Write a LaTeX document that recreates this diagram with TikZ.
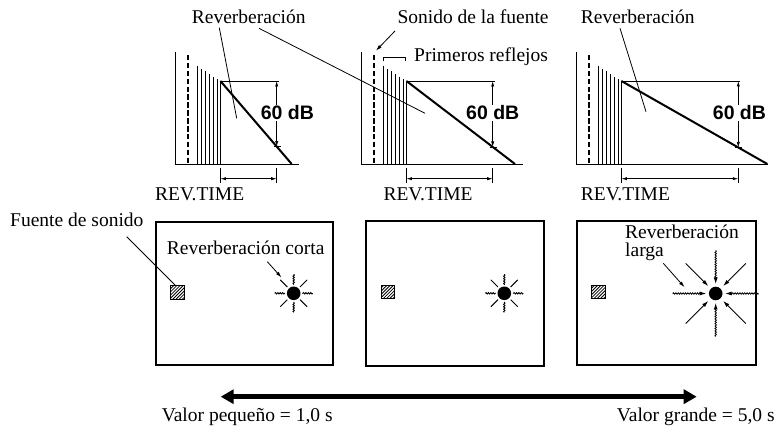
\documentclass[tikz,border=0pt]{standalone}
\usepackage{fontspec}
\setmainfont{Liberation Serif}
\newfontfamily\dbfont{Liberation Sans}
\usetikzlibrary{arrows.meta,decorations.pathmorphing}
\tikzset{
  lbl/.style={font=\fontsize{19.5}{22}\selectfont, inner sep=0pt, anchor=base west},
  dblbl/.style={font=\dbfont\bfseries\fontsize{19.5}{22}\selectfont, fill=white, inner sep=1pt, anchor=base west},
  axisln/.style={line width=0.9pt},
  dashln/.style={line width=1.7pt, dash pattern=on 5.5pt off 2.4pt},
  barln/.style={line width=1.5pt},
  decayln/.style={line width=2pt},
  thinln/.style={line width=0.8pt},
  dimarr/.style={line width=0.7pt, {Latex[length=5.5pt,width=3.2pt]}-{Latex[length=5.5pt,width=3.2pt]}},
  leadarr/.style={line width=0.8pt, -{Latex[length=6pt,width=3.6pt]}},
  boxln/.style={line width=2pt},
  wavy/.style={line width=0.8pt, decorate, decoration={snake, amplitude=0.7pt, segment length=2.4pt, post length=5pt}},
  rayarr/.style={-{Latex[length=6.5pt,width=4pt]}},
}
% #1 axis x, #2 decay end x, #3 60dB arrow x, #4 axis end x, #5 name, #6 60dB label x, #7 REV.TIME x
\newcommand\rvgraph[7]{%
  \draw[axisln] (#1,52) -- (#1,164) -- (#4,164);
  \draw[dashln] ({#1+12.5},55) -- ({#1+12.5},164);
  \foreach \dx/\ty in {22/65.7,26/69,30/71.3,34/74,38/76.7,42/79,44.7/81}
    \draw[barln] ({#1+\dx},\ty) -- ({#1+\dx},164);
  \coordinate (#5s) at ({#1+44.7},81);
  \coordinate (#5e) at (#2,164);
  \coordinate (#5t) at (#3,81);
  \coordinate (#5b) at (#3,{81+83*(#3-#1-44.7)/(#2-#1-44.7)});
  \draw[decayln] (#5s) -- (#5e);
  \draw[thinln] (#5s) -- ({#3+2},81);
  \draw[dimarr] (#5t) -- (#5b);
  \draw[thinln] ([xshift=-3pt]#5b) -- ([xshift=4pt]#5b);
  \node[dblbl] (#5db) at ({#6-1},120) {60 dB};
  \coordinate (#5dl) at ({#1+44.7},178.7);
  \coordinate (#5dr) at (#3,178.7);
  \draw[thinln] ({#1+44.7},168) -- ({#1+44.7},183);
  \draw[thinln] (#3,168) -- (#3,183);
  \draw[dimarr] (#5dl) -- (#5dr);
  \node[lbl] (#5rt) at (#7,201) {REV.TIME};
}
% source square, top-left corner
\newcommand\srcsq[3]{%
  \begin{scope}
    \clip (#1,#2) rectangle ++(13.6,13.6);
    \foreach \k in {-14,-10.8,...,14}
      \draw[line width=0.8pt] ({#1+\k},{#2+13.6}) -- ++(13.6,-13.6);
  \end{scope}
  \draw[line width=0.9pt] (#1,#2) rectangle ++(13.6,13.6) coordinate (#3);
}
\newcommand\smallrays[1]{%
  \foreach \a in {0,90,180,270}
    \draw[wavy, line width=0.9pt, decoration={post length=0pt}] ([shift={(\a:19)}]#1) -- ([shift={(\a:8.5)}]#1);
  \foreach \a in {45,135,225,315}
    \draw[line width=1pt] ([shift={(\a:19)}]#1) -- ([shift={(\a:9)}]#1);
}
\begin{document}
\begin{tikzpicture}[x=1pt,y=-1pt]
\useasboundingbox (0,0) rectangle (784,435);

% ---------- graphs ----------
\rvgraph{175.7}{291.7}{276.7}{299}{ga}{260.7}{155}
\rvgraph{361.7}{515}{492.7}{523}{gb}{466}{383.3}
\rvgraph{576.7}{767.3}{738.3}{768.3}{gc}{712.7}{580.7}

% labels above graphs
\node[lbl] (rev1) at (191.7,23.5) {Reverberación};
\coordinate (r1a) at (219.3,27.7);
\coordinate (r1b) at (236.7,118.3);
\coordinate (r1c) at (259,28.3);
\coordinate (r1d) at (425,113.3);
\draw[thinln] (r1a) -- (r1b);
\draw[thinln] (r1c) -- (r1d);

\node[lbl] (son) at (397.3,23.5) {Sonido de la fuente};
\coordinate (sa) at (395,31);
\coordinate (sb) at (376,50.7);
\draw[leadarr] (sa) -- (sb);

\node[lbl] (prim) at (414,62) {Primeros reflejos};
\coordinate (pa) at (383.3,61.5);
\coordinate (pb) at (405.7,61.5);
\draw[thinln] (pa) -- ++(0,-3.8) -| (pb);

\node[lbl] (rev3) at (580.7,23.5) {Reverberación};
\coordinate (r3a) at (620,28.3);
\coordinate (r3b) at (646,111.7);
\draw[thinln] (r3a) -- (r3b);

% ---------- rooms ----------
\draw[boxln] (156,221.7) rectangle (333.3,365);
\draw[boxln] (366,221) rectangle (543.7,365.7);
\draw[boxln] (576.7,220.7) rectangle (755.7,365);

\srcsq{170.7}{285.7}{sqa}
\srcsq{381}{285.3}{sqb}
\srcsq{591.7}{285.3}{sqc}

\coordinate (da) at (293.7,293.3);
\coordinate (db) at (504.3,293.3);
\coordinate (dc) at (715.7,293.5);
\fill (da) circle (6.8);
\fill (db) circle (6.8);
\fill (dc) circle (6.8);
\smallrays{da}
\smallrays{db}

\foreach \a in {0,90,180,270}
  \draw[wavy, rayarr] ([shift={(\a:43)}]dc) -- ([shift={(\a:9.5)}]dc);
\foreach \a in {45,135,225,315}
  \draw[line width=0.9pt, rayarr] ([shift={(\a:42.5)}]dc) -- ([shift={(\a:10.5)}]dc);

\node[lbl] (fue) at (10,226.7) {Fuente de sonido};
\coordinate (fa) at (126.7,236.7);
\coordinate (fb) at (175,285);
\draw[thinln] (fa) -- (fb);

\node[lbl] (corta) at (166.7,255) {Reverberación corta};
\coordinate (ca) at (267.3,261.7);
\coordinate (cb) at (281.5,277.5);
\draw[leadarr] (ca) -- (cb);

\node[lbl] (larga1) at (625,238.3) {Reverberación};
\node[lbl] (larga2) at (625,257) {larga};
\coordinate (la) at (663.3,263.3);
\coordinate (lb) at (684.5,287.2);
\draw[leadarr] (la) -- (lb);

% ---------- scale ----------
\coordinate (bl) at (220.7,396.7);
\coordinate (br) at (696.7,396.7);
\draw[line width=4.5pt, {Triangle[length=13pt,width=14pt]}-{Triangle[length=13pt,width=14pt]}] (bl) -- (br);
\node[lbl] (vp) at (161.7,421.7) {Valor pequeño = 1,0 s};
\node[lbl] (vg) at (616.7,421.7) {Valor grande = 5,0 s};
\end{tikzpicture}
\end{document}
